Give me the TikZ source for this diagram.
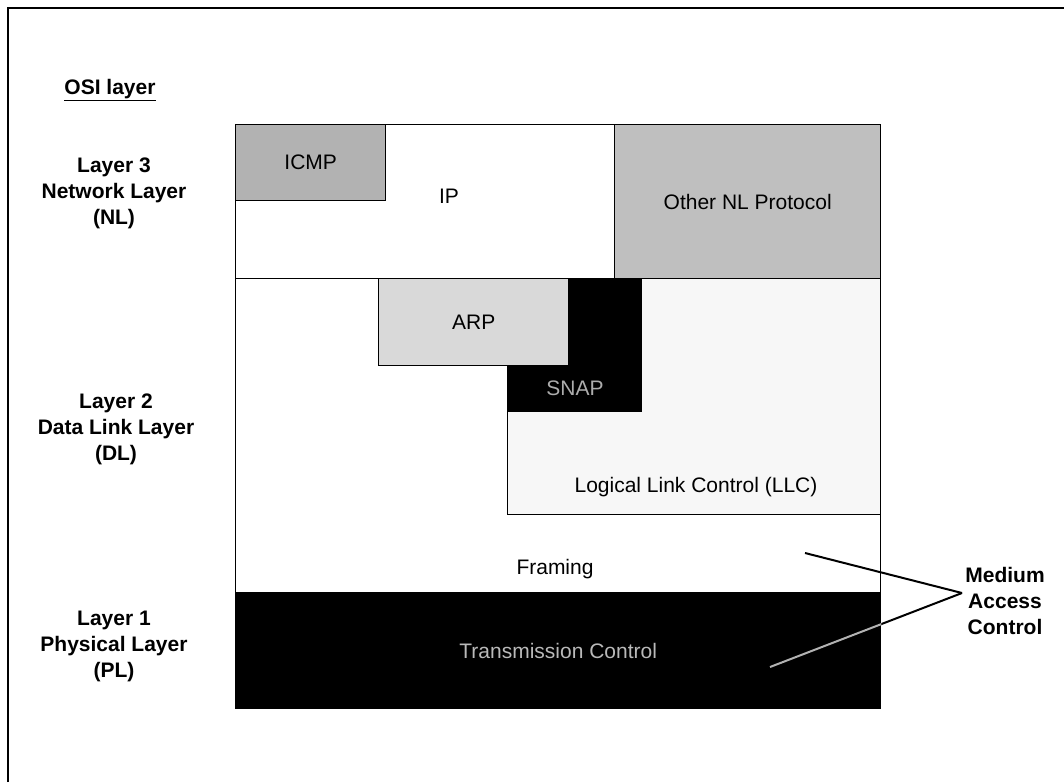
\documentclass[tikz,border=0pt]{standalone}
\usepackage{fontspec}
\setmainfont{Liberation Sans}
\usetikzlibrary{positioning}

\begin{document}
\begin{tikzpicture}[x=1pt, y=-1pt,
  box/.style={draw, line width=1.4pt, anchor=north west, inner sep=0pt, font=\fontsize{21}{25}\selectfont},
  txt/.style={inner sep=0pt, font=\fontsize{21}{25}\selectfont},
  osi/.style={align=center, inner sep=2pt, font=\bfseries\fontsize{21}{26}\selectfont},
  arr/.style={line width=2pt}
]
  \useasboundingbox (0,0) rectangle (1064,782);
  \draw[line width=2pt] (8,782) -- (8,8) -- (1064,8);

  % OSI layers on the left
  \node[osi] (osi) at (110,90) {\underline{OSI layer}};
  \node[osi] (nl) at (114,193) {Layer 3\\Network Layer\\(NL)};
  \node[osi] (dl) at (116,429) {Layer 2\\Data Link Layer\\(DL)};
  \node[osi] (pl) at (114,646) {Layer 1\\Physical Layer\\(PL)};

  % data link and physical
  \node[box, minimum width=645pt, minimum height=314pt] (dlbox) at (235,278) {};
  \node[box, fill=gray!6, minimum width=373pt, minimum height=236pt] (llc) at (507,278) {};
  \node[box, fill=black, minimum width=134pt, minimum height=133pt] (snap) at (507,278) {};
  \node[box, fill=gray!30, minimum width=190pt, minimum height=87pt] (arp) at (378,278) {ARP};
  \node[box, fill=black, text=gray!55, minimum width=645pt, minimum height=116pt] (tc) at (235,592) {Transmission Control};

  % network layer
  \node[box, minimum width=379pt, minimum height=154pt] (ip) at (235,124) {};
  \node[box, fill=gray!60, minimum width=150pt, minimum height=76pt] (icmp) at (235,124) {ICMP};
  \node[box, fill=gray!50, minimum width=266pt, minimum height=154pt] (other) at (614,124) {Other NL Protocol};

  \node[txt] (iptxt) at (449,196) {IP};
  \node[txt, text=gray!65] (snaptxt) at (575,388) {SNAP};
  \node[txt] (llctxt) at (696,487) {Logical Link Control (LLC)};
  \node[txt] (frmtxt) at (555,569) {Framing};

  % medium access control
  \node[osi] (mac) at (1005,601) {Medium\\Access\\Control};
  \coordinate (tip) at (962,593);
  \coordinate (frmend) at (805,553);
  \coordinate (tcend) at (770,667);
  \draw[arr] (tip) -- (frmend);
  \draw[arr] (tip) -- (tcend);
  \begin{scope}
    \clip (tc.north west) rectangle (tc.south east);
    \draw[arr, gray!60] (tip) -- (tcend);
  \end{scope}
\end{tikzpicture}
\end{document}
